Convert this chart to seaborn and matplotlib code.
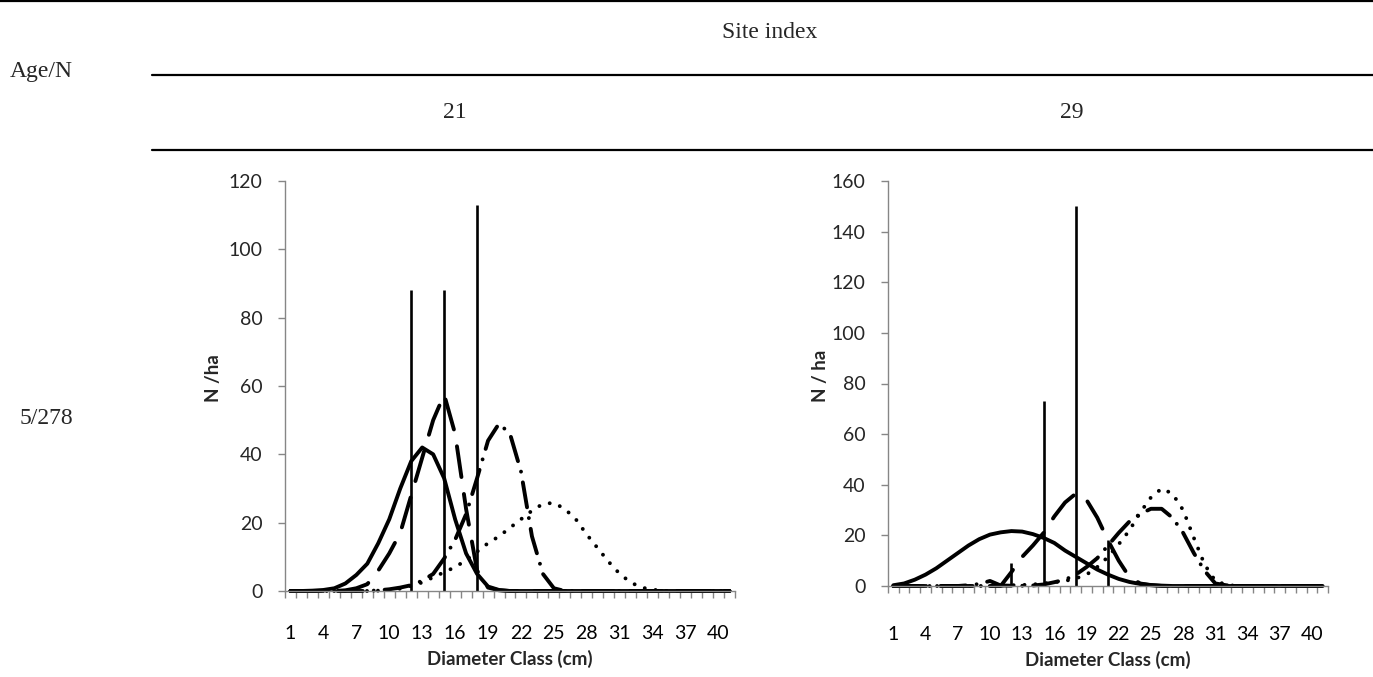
import numpy as np
import pandas as pd
import matplotlib
matplotlib.use("Agg")
import matplotlib.pyplot as plt
from matplotlib.lines import Line2D
import seaborn as sns

# ---------------- data ----------------
classes = list(range(1, 42))               # diameter classes 1..41 cm
tick_labels = [str(c) for c in range(1, 41, 3)]

# Site index 21
left_solid = [0, 0, 0.1, 0.3, 0.8, 2.2, 4.7, 8, 14, 21, 30, 38, 42, 40, 33, 21, 11, 5, 1.3, 0.3,
              0, 0, 0, 0, 0, 0, 0, 0, 0, 0, 0, 0, 0, 0, 0, 0, 0, 0, 0, 0, 0]
left_longdash = [0, 0, 0, 0, 0, 0.2, 0.8, 2, 6, 11, 17, 28, 39, 50, 57.5, 46, 24, 6, 1, 0.2,
                 0, 0, 0, 0, 0, 0, 0, 0, 0, 0, 0, 0, 0, 0, 0, 0, 0, 0, 0, 0, 0]
left_dashdot = [0, 0, 0, 0, 0, 0, 0, 0, 0.2, 0.5, 1, 1.7, 3, 5, 9.5, 15, 22.5, 33, 44, 49, 46, 35,
                16, 5, 0.8, 0, 0, 0, 0, 0, 0, 0, 0, 0, 0, 0, 0, 0, 0, 0, 0]
left_dotted = [0, 0, 0, 0, 0, 0, 0, 0, 0.1, 0.3, 0.7, 1.5, 2.5, 4, 5.5, 7, 9, 11.5, 14, 16, 18.5,
               21, 23.5, 25.5, 25.8, 24, 21, 16.5, 12.5, 8.5, 5, 2.5, 1, 0.4, 0, 0, 0, 0, 0, 0, 0]
left_vline_class = [12, 15, 18]
left_vline_height = [88, 88, 113]

# Site index 29
right_solid = [0.3, 1, 2.5, 4.5, 7, 10, 13, 16, 18.5, 20.3, 21.2, 21.7, 21.5, 20.5, 19, 17, 14, 11.5,
               9, 6.5, 4.5, 2.8, 1.6, 0.8, 0.4, 0.15, 0, 0, 0, 0, 0, 0, 0, 0, 0, 0, 0, 0, 0, 0, 0]
right_longdash = [0, 0, 0, 0, 0, 0, 0, 0, 0, 0, 0, 5.5, 11.5, 16, 21, 27.5, 33, 36.5, 34, 27, 18,
                  10, 3.5, 1, 0.3, 0, 0, 0, 0, 0, 0, 0, 0, 0, 0, 0, 0, 0, 0, 0, 0]
right_dashdot = [0, 0, 0, 0, 0, 0, 0, 0.3, 0.8, 2, 0.2, 0.1, 0.1, 0.2, 0.6, 1.5, 2.5, 4.5, 7.5, 11,
                 16, 21, 25.5, 28.5, 30.5, 30.5, 27, 21, 13, 6, 1, 0.3, 0, 0, 0, 0, 0, 0, 0, 0, 0]
right_dotted = [0, 0, 0, 0, 0, 0, 0, 0, 0, 0.1, 0.2, 0.3, 0.4, 0.6, 1, 1.5, 2, 3, 4.5, 7.5, 11.5,
                16.5, 22, 29, 35, 38.5, 36.5, 30, 19, 8.5, 2, 0.5, 0, 0, 0, 0, 0, 0, 0, 0, 0]
right_vline_class = [12, 15, 18, 21]
right_vline_height = [9, 73, 150, 18]

series_order = ["solid", "longdash", "dashdot", "dotted"]
dash_map = {"solid": "", "longdash": (8.0, 4.4), "dashdot": (6.5, 2.8, 0.01, 2.8), "dotted": (0.01, 2.8)}


def long_df(vals):
    frames = []
    for name, v in zip(series_order, vals):
        frames.append(pd.DataFrame({"pos": np.arange(len(classes)), "N": v, "series": name}))
    return pd.concat(frames, ignore_index=True)


dfL = long_df([left_solid, left_longdash, left_dashdot, left_dotted])
dfR = long_df([right_solid, right_longdash, right_dashdot, right_dotted])

# ---------------- style ----------------
sns.set_theme(style="white")
plt.rcParams["font.family"] = ["Lato", "DejaVu Sans"]
GRAY = "#868686"

W, H = 1373, 677
fig = plt.figure(figsize=(W / 100, H / 100), dpi=100)
fig.patch.set_facecolor("white")

axL = fig.add_axes([285 / W, (H - 591) / H, 450 / W, 410 / H])
axR = fig.add_axes([888 / W, (H - 586) / H, 440 / W, 405 / H])


def draw(ax, df, vcls, vh, ymax, ylabel, xpad, xlabpad):
    sns.lineplot(data=df, x="pos", y="N", style="series", style_order=series_order,
                 dashes=dash_map, color="black", linewidth=2.8, legend=False,
                 estimator=None, sort=False, ax=ax)
    for ln in ax.lines:
        ln.set_dash_capstyle("round")
        ln.set_solid_capstyle("round")
        ln.set_solid_joinstyle("round")
        ln.set_clip_on(False)
    ax.vlines([classes.index(c) for c in vcls], 0, vh, color="black", lw=1.9)
    ax.set_xlim(-0.5, len(classes) - 0.5)
    ax.set_ylim(0, ymax)
    ax.set_yticks(np.arange(0, ymax + 1, 20))
    ax.set_xticks([classes.index(int(t)) for t in tick_labels])
    ax.set_xticklabels(tick_labels)
    ax.set_xticks(np.arange(-0.5, len(classes), 1.0), minor=True)
    ax.tick_params(axis="x", which="major", length=0, pad=xpad, labelsize=14, colors="black")
    ax.tick_params(axis="x", which="minor", length=5, width=1, color=GRAY, direction="out", bottom=True)
    ax.tick_params(axis="y", which="major", length=5, width=1, color=GRAY, direction="out",
                   pad=11, labelsize=14, left=True)
    for s in ["top", "right"]:
        ax.spines[s].set_visible(False)
    for s in ["left", "bottom"]:
        ax.spines[s].set_color(GRAY)
        ax.spines[s].set_linewidth(1.0)
    ax.set_xlabel("Diameter Class (cm)", fontsize=13.5, fontweight="bold", labelpad=xlabpad)
    ax.set_ylabel(ylabel, fontsize=13.5, fontweight="bold")
    ax.set_facecolor("white")


draw(axL, dfL, left_vline_class, left_vline_height, 120, "N /ha", 24.5, 5.5)
draw(axR, dfR, right_vline_class, right_vline_height, 160, "N / ha", 29, 5.5)
axL.yaxis.set_label_coords((222 - 285) / 450, 0.52)
axR.yaxis.set_label_coords((829 - 888) / 440, 0.52)

# ---------------- table-like header ----------------
serif = ["Liberation Serif", "DejaVu Serif"]
fs = 17
fig.text(770 / W, 1 - 33 / H, "Site index", ha="center", va="center", family=serif, fontsize=fs)
fig.text(10 / W, 1 - 72 / H, "Age/N", ha="left", va="center", family=serif, fontsize=fs)
fig.text(455 / W, 1 - 113 / H, "21", ha="center", va="center", family=serif, fontsize=fs)
fig.text(1072 / W, 1 - 113 / H, "29", ha="center", va="center", family=serif, fontsize=fs)
fig.text(20 / W, 1 - 418 / H, "5/278", ha="left", va="center", family=serif, fontsize=fs)

for (x0, x1, y) in [(0, W, 1), (152, W, 75), (152, W, 150)]:
    fig.add_artist(Line2D([x0 / W, x1 / W], [1 - y / H, 1 - y / H], transform=fig.transFigure,
                          color="black", lw=1.6))

fig.savefig("out.png", dpi=100, facecolor="white")
